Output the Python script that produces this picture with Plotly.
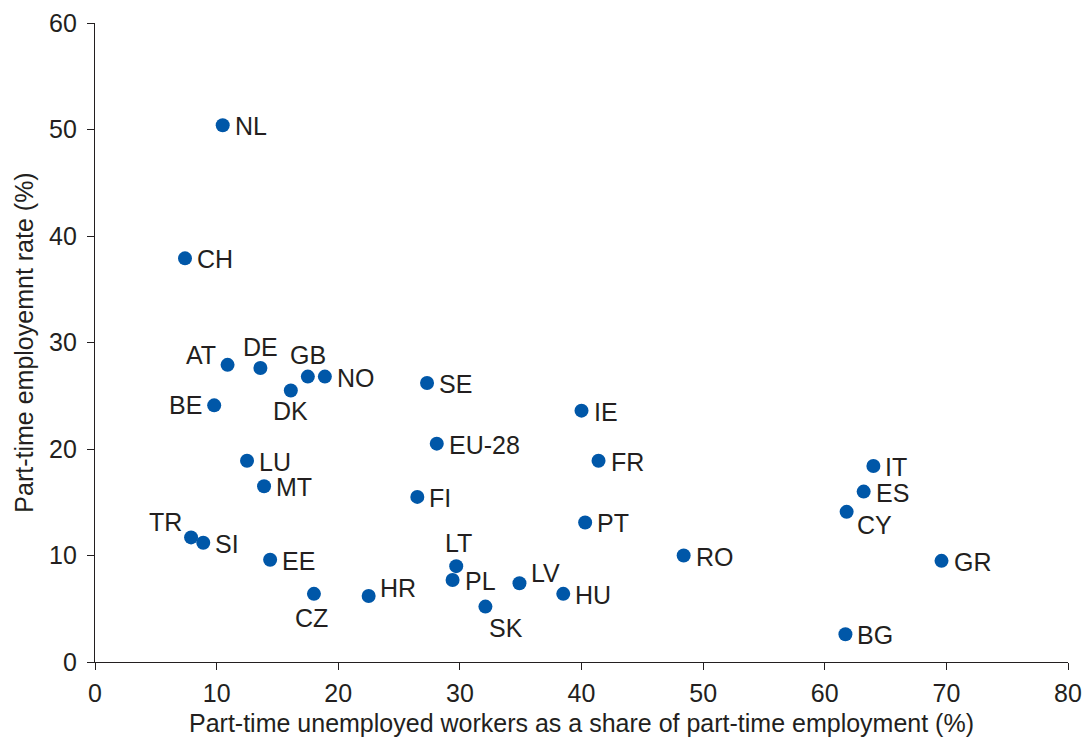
import plotly.graph_objects as go

countries = ["NL", "CH", "AT", "DE", "GB", "NO", "DK", "BE", "SE", "IE", "EU-28", "FR",
             "LU", "MT", "FI", "PT", "IT", "ES", "CY", "GR", "RO", "BG", "TR", "SI",
             "EE", "CZ", "HR", "LT", "PL", "LV", "HU", "SK"]
unemployed_share = [10.5, 7.4, 10.9, 13.6, 17.5, 18.9, 16.1, 9.8, 27.3, 40.0, 28.1, 41.4,
                    12.5, 13.9, 26.5, 40.3, 64.0, 63.2, 61.8, 69.6, 48.4, 61.7, 7.9, 8.9,
                    14.4, 18.0, 22.5, 29.7, 29.4, 34.9, 38.5, 32.1]
parttime_rate = [50.4, 37.9, 27.9, 27.6, 26.8, 26.8, 25.5, 24.1, 26.2, 23.6, 20.5, 18.9,
                 18.9, 16.5, 15.5, 13.1, 18.4, 16.0, 14.1, 9.5, 10.0, 2.6, 11.7, 11.2,
                 9.6, 6.4, 6.2, 9.0, 7.7, 7.4, 6.4, 5.2]

# label placement (style): anchor, x shift px, y shift px (screen, down positive)
label_style = {
    "AT": ("right", -10, -10), "DE": ("center", 0, -21), "GB": ("center", 0, -22),
    "DK": ("center", 0, 21), "BE": ("right", -10, 0), "CY": ("left", 8, 13),
    "TR": ("right", -7, -15), "CZ": ("center", -2, 24), "LT": ("center", 2, -23),
    "LV": ("left", 10, -10), "SK": ("left", 2, 21), "HR": ("left", 9, -8),
}
default_style = ("left", 10, 1)

INK = "#231F20"
FONT = "Liberation Sans"

fig = go.Figure(go.Scatter(
    x=unemployed_share, y=parttime_rate, mode="markers",
    marker=dict(size=14, color="#0057A8"),
    cliponaxis=False, hoverinfo="text", text=countries,
))

for c, xv, yv in zip(countries, unemployed_share, parttime_rate):
    anchor, dx, dy = label_style.get(c, default_style)
    fig.add_annotation(x=xv, y=yv, text=c, showarrow=False, xanchor=anchor, yanchor="middle",
                       xshift=dx, yshift=-dy, font=dict(size=25, color=INK, family=FONT))

axis_common = dict(showgrid=False, zeroline=False, showline=True, linecolor=INK,
                   linewidth=1.3, ticks="outside", ticklen=7, tickcolor=INK,
                   tickfont=dict(size=25, color=INK, family=FONT), automargin=False)
fig.update_xaxes(range=[0, 80], dtick=10, ticklabelstandoff=2,
                 title=dict(text="Part-time unemployed workers as a share of part-time employment (%)",
                            font=dict(size=25, color=INK, family=FONT), standoff=8), **axis_common)
fig.update_yaxes(range=[0, 60], dtick=10, ticklabelstandoff=5,
                 title=dict(text="Part-time employemnt rate (%)",
                            font=dict(size=25, color=INK, family=FONT), standoff=8), **axis_common)

fig.update_layout(width=1083, height=740, plot_bgcolor="white", paper_bgcolor="white",
                  margin=dict(l=95, r=15, t=23, b=78), showlegend=False,
                  font=dict(family=FONT, color=INK))
fig.write_html("out.html", config={"displayModeBar": False},
               post_script="document.body.style.margin='0';document.body.style.overflow='hidden';")
